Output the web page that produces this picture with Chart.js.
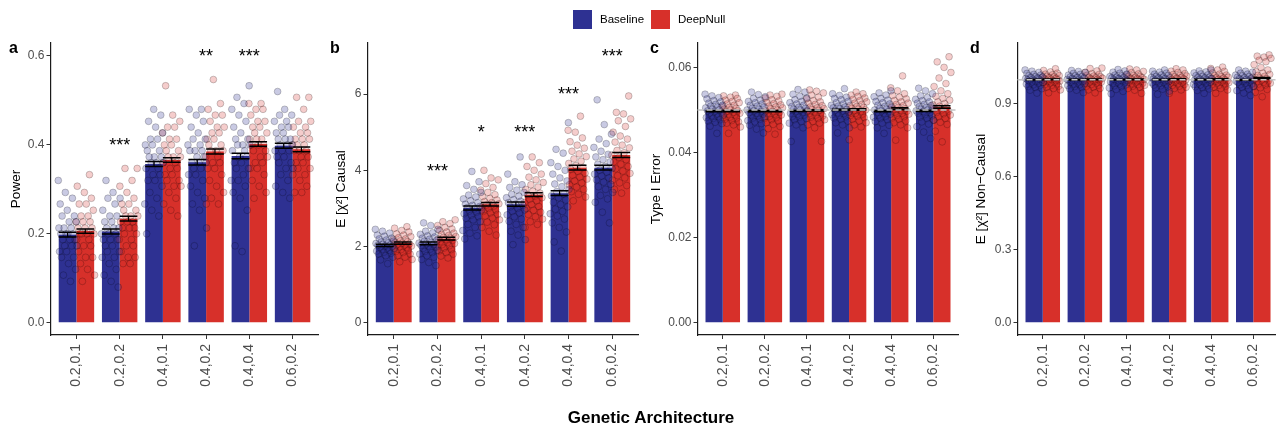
<!DOCTYPE html>
<html>
<head>
<meta charset="utf-8">
<script src="https://cdn.jsdelivr.net/npm/chart.js@4.4.1/dist/chart.umd.min.js"></script>
<style>
  html, body { margin: 0; padding: 0; background: #fff; }
  #page { position: relative; width: 1276px; height: 428px; overflow: hidden;
          font-family: "Liberation Sans", Arial, Helvetica, sans-serif; color: #000; }
  #page canvas { position: absolute; left: 0; top: 0; }
  .tag { position: absolute; top: 40px; font-size: 16px; font-weight: bold; line-height: 16px; }
  .key { position: absolute; top: 10px; width: 19px; height: 19px; }
  .key-label { position: absolute; top: 10px; height: 19px; line-height: 19px; font-size: 11.5px; }
  #xtitle { position: absolute; left: 451px; width: 400px; top: 409px; text-align: center;
            font-size: 17px; font-weight: bold; line-height: 17px; }
</style>
</head>
<body>
<div id="page">
  <canvas id="panelA" width="1276" height="428"></canvas>
  <canvas id="panelB" width="1276" height="428"></canvas>
  <canvas id="panelC" width="1276" height="428"></canvas>
  <canvas id="panelD" width="1276" height="428"></canvas>
  <div class="tag" style="left:9px">a</div>
  <div class="tag" style="left:330px">b</div>
  <div class="tag" style="left:650px">c</div>
  <div class="tag" style="left:970px">d</div>
  <div id="legend"></div>
  <div id="xtitle">Genetic Architecture</div>
</div>
<script>
// ---- categories and series ----
const architectures = ['0.2,0.1', '0.2,0.2', '0.4,0.1', '0.4,0.2', '0.4,0.4', '0.6,0.2'];
const methods = ['Baseline', 'DeepNull'];

// a: power
const powerTicks = [0, 0.2, 0.4, 0.6];
const powerBaseline = [0.198, 0.205, 0.357, 0.361, 0.375, 0.398];
const powerDeepNull = [0.206, 0.234, 0.366, 0.385, 0.402, 0.390];
const powerBaselineSe = [0.0055, 0.0055, 0.0055, 0.006, 0.006, 0.0055];
const powerDeepNullSe = [0.005, 0.0055, 0.005, 0.0055, 0.005, 0.0055];
const powerStars = ['', '***', '', '**', '***', ''];
const powerStarLevels = [null, 0.409, null, 0.609, 0.609, null];
const powerBaselineRuns = [
  [0.320,0.293,0.280,0.267,0.253,0.240,0.240,0.227,0.227,0.213,0.213,0.213,0.200,0.200,0.200,0.200,0.187,0.187,0.187,0.173,0.173,0.173,0.160,0.160,0.147,0.147,0.133,0.120,0.107,0.093],
  [0.320,0.293,0.280,0.280,0.267,0.253,0.240,0.240,0.227,0.227,0.213,0.213,0.213,0.200,0.200,0.200,0.187,0.187,0.187,0.173,0.173,0.160,0.160,0.147,0.147,0.133,0.120,0.107,0.093,0.080],
  [0.480,0.467,0.453,0.440,0.427,0.413,0.413,0.400,0.400,0.387,0.387,0.373,0.373,0.373,0.360,0.360,0.360,0.347,0.347,0.333,0.333,0.320,0.320,0.307,0.293,0.280,0.267,0.253,0.240,0.200],
  [0.480,0.480,0.467,0.453,0.440,0.427,0.413,0.413,0.400,0.400,0.387,0.387,0.387,0.373,0.373,0.360,0.360,0.360,0.347,0.347,0.333,0.333,0.320,0.307,0.293,0.280,0.267,0.253,0.213,0.173],
  [0.533,0.507,0.493,0.480,0.467,0.453,0.440,0.427,0.413,0.413,0.400,0.400,0.400,0.387,0.387,0.373,0.373,0.360,0.360,0.347,0.347,0.333,0.320,0.320,0.307,0.293,0.280,0.253,0.173,0.160],
  [0.520,0.480,0.467,0.467,0.453,0.453,0.440,0.440,0.427,0.427,0.413,0.413,0.413,0.400,0.400,0.400,0.387,0.387,0.387,0.373,0.373,0.360,0.360,0.347,0.347,0.333,0.320,0.307,0.293,0.280]
];
const powerDeepNullRuns = [
  [0.333,0.307,0.293,0.280,0.267,0.267,0.253,0.240,0.240,0.227,0.227,0.227,0.213,0.213,0.213,0.200,0.200,0.200,0.200,0.187,0.187,0.173,0.173,0.160,0.147,0.147,0.133,0.120,0.107,0.093],
  [0.347,0.347,0.320,0.307,0.293,0.280,0.267,0.267,0.253,0.253,0.240,0.240,0.240,0.227,0.227,0.227,0.213,0.213,0.213,0.200,0.200,0.187,0.187,0.173,0.173,0.160,0.147,0.147,0.133,0.133],
  [0.533,0.467,0.453,0.440,0.440,0.427,0.413,0.413,0.400,0.400,0.387,0.387,0.373,0.373,0.373,0.360,0.360,0.347,0.347,0.333,0.333,0.320,0.320,0.307,0.307,0.293,0.280,0.267,0.253,0.240],
  [0.547,0.493,0.480,0.467,0.467,0.453,0.440,0.440,0.427,0.427,0.413,0.413,0.400,0.400,0.387,0.387,0.387,0.373,0.373,0.360,0.360,0.347,0.347,0.333,0.320,0.307,0.293,0.280,0.267,0.267],
  [0.493,0.493,0.480,0.480,0.467,0.453,0.453,0.440,0.440,0.427,0.427,0.413,0.413,0.413,0.400,0.400,0.400,0.387,0.387,0.373,0.373,0.360,0.360,0.347,0.347,0.333,0.320,0.307,0.293,0.280],
  [0.507,0.507,0.480,0.453,0.453,0.440,0.440,0.427,0.427,0.413,0.413,0.413,0.400,0.400,0.400,0.387,0.387,0.387,0.373,0.373,0.360,0.360,0.347,0.347,0.333,0.333,0.320,0.307,0.293,0.293]
];

// b: mean chi-square at causal variants
const causalTicks = [0, 2, 4, 6];
const causalBaseline = [2.03, 2.08, 3.01, 3.11, 3.40, 4.07];
const causalDeepNull = [2.09, 2.205, 3.11, 3.36, 4.07, 4.40];
const causalBaselineSe = [0.03, 0.035, 0.05, 0.055, 0.06, 0.065];
const causalDeepNullSe = [0.03, 0.035, 0.045, 0.05, 0.06, 0.065];
const causalStars = ['', '***', '*', '***', '***', '***'];
const causalStarLevels = [null, 4.105, 5.12, 5.12, 6.11, 7.11];
const causalBaselineRuns = [
  [2.45,2.40,2.35,2.30,2.27,2.22,2.20,2.17,2.14,2.12,2.10,2.08,2.06,2.04,2.03,2.01,2.00,1.98,1.96,1.94,1.92,1.90,1.88,1.85,1.82,1.80,1.76,1.72,1.65,1.55],
  [2.62,2.55,2.45,2.40,2.36,2.32,2.28,2.25,2.22,2.19,2.16,2.14,2.11,2.09,2.07,2.05,2.03,2.01,1.98,1.95,1.93,1.90,1.87,1.84,1.80,1.76,1.72,1.66,1.58,1.50],
  [3.97,3.70,3.60,3.50,3.42,3.35,3.30,3.25,3.20,3.15,3.11,3.08,3.05,3.02,2.99,2.96,2.93,2.90,2.86,2.82,2.78,2.74,2.70,2.65,2.58,2.50,2.42,2.35,2.28,2.20],
  [4.35,3.90,3.70,3.62,3.55,3.48,3.42,3.37,3.32,3.28,3.23,3.19,3.15,3.11,3.08,3.04,3.00,2.96,2.92,2.88,2.83,2.78,2.72,2.66,2.58,2.50,2.40,2.30,2.18,2.05],
  [5.25,4.55,4.45,4.20,4.10,4.00,3.90,3.80,3.72,3.64,3.57,3.50,3.44,3.38,3.33,3.28,3.22,3.16,3.10,3.04,2.98,2.92,2.86,2.80,2.72,2.62,2.50,2.38,2.12,1.88],
  [5.85,5.20,4.95,4.82,4.70,4.60,4.50,4.42,4.35,4.28,4.22,4.16,4.10,4.05,4.00,3.95,3.90,3.85,3.80,3.75,3.69,3.63,3.57,3.50,3.42,3.34,3.25,3.16,2.90,2.62]
];
const causalDeepNullRuns = [
  [2.52,2.48,2.42,2.38,2.33,2.30,2.26,2.23,2.20,2.18,2.15,2.13,2.11,2.09,2.07,2.05,2.03,2.01,1.99,1.97,1.95,1.92,1.90,1.87,1.84,1.80,1.76,1.72,1.66,1.60],
  [2.70,2.65,2.60,2.55,2.50,2.46,2.42,2.38,2.35,2.32,2.29,2.26,2.24,2.22,2.20,2.18,2.16,2.13,2.10,2.08,2.05,2.02,1.99,1.96,1.92,1.88,1.84,1.80,1.75,1.70],
  [4.00,3.80,3.75,3.65,3.55,3.48,3.42,3.36,3.31,3.26,3.22,3.18,3.15,3.12,3.09,3.06,3.03,3.00,2.96,2.92,2.88,2.84,2.80,2.75,2.70,2.64,2.57,2.50,2.40,2.30],
  [4.35,4.20,4.10,4.00,3.90,3.82,3.75,3.68,3.62,3.56,3.50,3.45,3.40,3.36,3.32,3.28,3.24,3.20,3.15,3.10,3.05,3.00,2.95,2.90,2.84,2.78,2.72,2.65,2.58,2.50],
  [5.42,5.05,5.00,4.85,4.75,4.66,4.58,4.50,4.43,4.36,4.30,4.24,4.18,4.12,4.07,4.02,3.97,3.92,3.87,3.82,3.77,3.72,3.67,3.62,3.56,3.50,3.44,3.37,3.30,3.20],
  [5.95,5.52,5.48,5.35,5.30,5.15,5.00,4.90,4.82,4.74,4.66,4.59,4.52,4.46,4.40,4.34,4.28,4.22,4.16,4.10,4.04,3.98,3.92,3.86,3.80,3.74,3.67,3.60,3.50,3.40]
];

// c: type I error
const typeOneTicks = [0, 0.02, 0.04, 0.06];
const typeOneBaseline = [0.0497, 0.0497, 0.0498, 0.0500, 0.0497, 0.0498];
const typeOneDeepNull = [0.0497, 0.0497, 0.0499, 0.0501, 0.0503, 0.0507];
const typeOneBaselineSe = [0.00015, 0.00015, 0.00015, 0.00015, 0.00015, 0.00015];
const typeOneDeepNullSe = [0.00015, 0.00015, 0.00015, 0.00015, 0.0002, 0.0003];
const typeOneLevel = 0.05;
const typeOneBaselineRuns = [
  [0.0537,0.0533,0.0529,0.0526,0.0522,0.0519,0.0516,0.0513,0.0511,0.0509,0.0507,0.0505,0.0502,0.0500,0.0498,0.0496,0.0494,0.0492,0.0490,0.0488,0.0486,0.0484,0.0482,0.0480,0.0477,0.0474,0.0471,0.0468,0.0462,0.0445],
  [0.0542,0.0536,0.0531,0.0527,0.0523,0.0520,0.0517,0.0514,0.0511,0.0509,0.0507,0.0504,0.0502,0.0500,0.0498,0.0496,0.0494,0.0492,0.0490,0.0488,0.0486,0.0484,0.0481,0.0478,0.0475,0.0472,0.0468,0.0464,0.0455,0.0446],
  [0.0548,0.0542,0.0537,0.0532,0.0528,0.0524,0.0520,0.0517,0.0514,0.0511,0.0508,0.0506,0.0504,0.0502,0.0500,0.0498,0.0496,0.0494,0.0492,0.0490,0.0488,0.0485,0.0483,0.0480,0.0477,0.0473,0.0469,0.0465,0.0458,0.0426],
  [0.0550,0.0538,0.0534,0.0530,0.0527,0.0524,0.0520,0.0517,0.0514,0.0511,0.0509,0.0507,0.0505,0.0503,0.0501,0.0499,0.0497,0.0495,0.0493,0.0491,0.0489,0.0487,0.0484,0.0481,0.0478,0.0474,0.0470,0.0465,0.0458,0.0446],
  [0.0545,0.0540,0.0535,0.0531,0.0527,0.0523,0.0520,0.0517,0.0514,0.0511,0.0508,0.0506,0.0504,0.0502,0.0500,0.0498,0.0496,0.0494,0.0492,0.0490,0.0488,0.0485,0.0483,0.0480,0.0477,0.0473,0.0469,0.0464,0.0458,0.0445],
  [0.0551,0.0545,0.0538,0.0533,0.0529,0.0525,0.0522,0.0519,0.0516,0.0513,0.0510,0.0508,0.0506,0.0504,0.0502,0.0500,0.0498,0.0496,0.0494,0.0492,0.0489,0.0486,0.0483,0.0480,0.0476,0.0472,0.0467,0.0461,0.0448,0.0433]
];
const typeOneDeepNullRuns = [
  [0.0535,0.0533,0.0530,0.0527,0.0523,0.0520,0.0517,0.0514,0.0511,0.0508,0.0506,0.0504,0.0502,0.0500,0.0498,0.0496,0.0494,0.0492,0.0490,0.0488,0.0486,0.0483,0.0481,0.0478,0.0475,0.0472,0.0469,0.0465,0.0460,0.0445],
  [0.0537,0.0535,0.0532,0.0528,0.0524,0.0521,0.0518,0.0515,0.0512,0.0509,0.0507,0.0505,0.0503,0.0500,0.0498,0.0496,0.0494,0.0492,0.0490,0.0488,0.0485,0.0482,0.0480,0.0477,0.0474,0.0470,0.0466,0.0461,0.0456,0.0443],
  [0.0547,0.0544,0.0540,0.0535,0.0530,0.0526,0.0522,0.0519,0.0516,0.0513,0.0510,0.0507,0.0505,0.0503,0.0501,0.0499,0.0497,0.0495,0.0493,0.0491,0.0488,0.0486,0.0483,0.0480,0.0477,0.0473,0.0469,0.0465,0.0458,0.0426],
  [0.0542,0.0538,0.0535,0.0532,0.0528,0.0525,0.0522,0.0519,0.0516,0.0513,0.0510,0.0508,0.0506,0.0504,0.0502,0.0500,0.0498,0.0496,0.0494,0.0492,0.0490,0.0487,0.0485,0.0482,0.0478,0.0474,0.0470,0.0465,0.0460,0.0430],
  [0.0580,0.0552,0.0545,0.0538,0.0534,0.0530,0.0526,0.0522,0.0519,0.0516,0.0513,0.0510,0.0508,0.0506,0.0503,0.0501,0.0499,0.0497,0.0495,0.0492,0.0490,0.0487,0.0484,0.0481,0.0478,0.0474,0.0470,0.0465,0.0458,0.0429],
  [0.0625,0.0613,0.0600,0.0588,0.0575,0.0562,0.0555,0.0545,0.0538,0.0532,0.0527,0.0523,0.0519,0.0515,0.0512,0.0509,0.0506,0.0503,0.0500,0.0497,0.0494,0.0491,0.0488,0.0484,0.0480,0.0476,0.0471,0.0466,0.0450,0.0425]
];

// d: mean chi-square at non-causal variants
const nonCausalTicks = [0, 0.3, 0.6, 0.9];
const nonCausalBaseline = [1.000, 1.000, 1.000, 1.000, 1.000, 0.999];
const nonCausalDeepNull = [1.001, 1.001, 1.001, 1.002, 1.002, 1.006];
const nonCausalBaselineSe = [0.0015, 0.0015, 0.0015, 0.0015, 0.0015, 0.0018];
const nonCausalDeepNullSe = [0.0015, 0.0015, 0.0015, 0.0015, 0.0018, 0.003];
const nonCausalLevel = 1.0;
const nonCausalBaselineRuns = [
  [1.040,1.035,1.030,1.026,1.022,1.019,1.016,1.013,1.011,1.009,1.007,1.005,1.003,1.001,0.999,0.997,0.995,0.993,0.991,0.989,0.987,0.985,0.982,0.979,0.976,0.972,0.968,0.963,0.957,0.945],
  [1.038,1.034,1.030,1.026,1.022,1.019,1.016,1.013,1.011,1.009,1.007,1.005,1.003,1.001,0.999,0.997,0.995,0.993,0.991,0.989,0.987,0.985,0.982,0.979,0.976,0.972,0.968,0.963,0.957,0.947],
  [1.042,1.036,1.031,1.027,1.023,1.019,1.016,1.013,1.011,1.009,1.007,1.005,1.003,1.001,0.999,0.997,0.995,0.993,0.991,0.989,0.987,0.985,0.982,0.979,0.975,0.971,0.966,0.960,0.952,0.942],
  [1.040,1.035,1.031,1.027,1.023,1.020,1.017,1.014,1.011,1.009,1.007,1.005,1.003,1.001,0.999,0.997,0.995,0.993,0.991,0.989,0.987,0.984,0.981,0.978,0.975,0.971,0.967,0.961,0.953,0.940],
  [1.040,1.036,1.032,1.028,1.024,1.020,1.017,1.014,1.011,1.009,1.007,1.005,1.003,1.001,0.999,0.997,0.995,0.993,0.991,0.989,0.987,0.984,0.981,0.978,0.975,0.971,0.967,0.962,0.956,0.944],
  [1.040,1.035,1.031,1.027,1.023,1.019,1.016,1.013,1.010,1.008,1.006,1.004,1.002,1.000,0.998,0.996,0.994,0.992,0.990,0.988,0.985,0.982,0.979,0.976,0.972,0.968,0.962,0.955,0.945,0.935]
];
const nonCausalDeepNullRuns = [
  [1.045,1.038,1.032,1.027,1.023,1.020,1.017,1.014,1.012,1.010,1.008,1.006,1.004,1.002,1.000,0.998,0.996,0.994,0.992,0.990,0.988,0.986,0.983,0.980,0.977,0.973,0.969,0.964,0.958,0.946],
  [1.048,1.046,1.036,1.030,1.025,1.021,1.018,1.015,1.012,1.010,1.008,1.006,1.004,1.002,1.000,0.998,0.996,0.994,0.992,0.990,0.988,0.986,0.983,0.980,0.977,0.973,0.969,0.964,0.958,0.946],
  [1.044,1.040,1.034,1.029,1.024,1.020,1.017,1.014,1.012,1.010,1.008,1.006,1.004,1.002,1.000,0.998,0.996,0.994,0.992,0.990,0.988,0.986,0.983,0.980,0.977,0.973,0.969,0.964,0.957,0.944],
  [1.045,1.040,1.035,1.030,1.025,1.021,1.018,1.015,1.012,1.010,1.008,1.006,1.004,1.002,1.000,0.998,0.996,0.994,0.992,0.990,0.988,0.986,0.983,0.980,0.977,0.973,0.969,0.964,0.958,0.944],
  [1.052,1.046,1.040,1.034,1.028,1.023,1.019,1.016,1.013,1.010,1.008,1.006,1.004,1.002,1.000,0.998,0.996,0.994,0.992,0.990,0.988,0.986,0.983,0.980,0.977,0.973,0.969,0.964,0.958,0.944],
  [1.102,1.097,1.093,1.088,1.080,1.074,1.062,1.050,1.040,1.033,1.027,1.022,1.018,1.014,1.010,1.007,1.004,1.001,0.998,0.995,0.992,0.989,0.986,0.982,0.978,0.973,0.967,0.960,0.948,0.930]
];

// ---- styling and layout ----
const BLUE = '#2E3192';
const RED = '#D7302A';
const BLUE_SOFT = 'rgba(46,49,146,0.26)';
const RED_SOFT = 'rgba(215,48,42,0.24)';
const RING = 'rgba(0,0,0,0.26)';
const FONT = '"Liberation Sans", Arial, Helvetica, sans-serif';
const PAGE_W = 1276, PAGE_H = 428;
const PLOT_TOP = 43, PLOT_BOTTOM = 335;
const Y_AXIS_W = 50, X_AXIS_H = 60;
const PAIR_SHARE = 0.82;            // part of each category filled by the two bars
const BAR_SHIFT = PAIR_SHARE / 4;   // offset of each bar centre from the category

// spreads the replicate dots sideways inside their bar (fixed interleaved order)
function sideways(k, salt) {
  return ((k * 11 + salt * 7) % 30) / 29 - 0.5;
}

// legend
(function buildLegend() {
  const legend = document.getElementById('legend');
  const colours = [BLUE, RED];
  const keyLeft = [573, 651];
  methods.forEach((name, i) => {
    const key = document.createElement('div');
    key.className = 'key';
    key.style.left = keyLeft[i] + 'px';
    key.style.background = colours[i];
    const label = document.createElement('div');
    label.className = 'key-label';
    label.style.left = (keyLeft[i] + 27) + 'px';
    label.textContent = name;
    legend.appendChild(key);
    legend.appendChild(label);
  });
})();

function makePanel(canvasId, p) {
  const toBars = vals => vals.map((v, i) => ({ x: i, y: v }));
  const toDots = (runs, side, salt) => runs.flatMap((vals, i) =>
    vals.map((v, k) => ({ x: i + side * BAR_SHIFT + sideways(k, salt + i) * BAR_SHIFT * 2.1, y: v })));

  const marks = {
    id: 'summaryMarks',
    afterDatasetsDraw(chart) {
      const { ctx, chartArea } = chart;
      const xs = chart.scales.x, ys = chart.scales.y;
      const means = [p.baseline, p.deepnull];
      const ses = [p.baselineSe, p.deepnullSe];
      ctx.save();
      [0, 1].forEach(di => {
        chart.getDatasetMeta(di).data.forEach((bar, i) => {
          const cx = bar.x, hw = bar.width / 2;
          const hi = ys.getPixelForValue(means[di][i] + ses[di][i]);
          const lo = ys.getPixelForValue(means[di][i] - ses[di][i]);
          ctx.strokeStyle = '#000';
          ctx.lineWidth = 1.5;
          ctx.beginPath();
          ctx.moveTo(cx - hw, hi); ctx.lineTo(cx + hw, hi);
          ctx.moveTo(cx - hw, lo); ctx.lineTo(cx + hw, lo);
          ctx.stroke();
          ctx.lineWidth = 1.2;
          ctx.beginPath();
          ctx.moveTo(cx, hi); ctx.lineTo(cx, lo);
          ctx.stroke();
        });
      });
      if (p.level != null) {
        const yl = ys.getPixelForValue(p.level);
        ctx.strokeStyle = '#c4c4c4';
        ctx.lineWidth = 1.4;
        ctx.setLineDash([6, 3]);
        ctx.beginPath();
        ctx.moveTo(chartArea.left, yl); ctx.lineTo(chartArea.right, yl);
        ctx.stroke();
        ctx.setLineDash([]);
      }
      if (p.stars) {
        ctx.fillStyle = '#000';
        ctx.font = '18px ' + FONT;
        ctx.textAlign = 'center';
        ctx.textBaseline = 'alphabetic';
        p.stars.forEach((s, i) => {
          if (!s) return;
          ctx.fillText(s, xs.getPixelForValue(i), ys.getPixelForValue(p.starLevels[i]) + 0.575 * 18);
        });
      }
      ctx.restore();
    }
  };

  return new Chart(document.getElementById(canvasId), {
    type: 'bar',
    data: {
      datasets: [
        { type: 'bar', label: methods[0], data: toBars(p.baseline), backgroundColor: BLUE,
          categoryPercentage: PAIR_SHARE, barPercentage: 1, order: 2 },
        { type: 'bar', label: methods[1], data: toBars(p.deepnull), backgroundColor: RED,
          categoryPercentage: PAIR_SHARE, barPercentage: 1, order: 2 },
        { type: 'scatter', data: toDots(p.baselineRuns, -1, 0), backgroundColor: BLUE_SOFT,
          borderColor: RING, borderWidth: 0.8, pointRadius: 3.4, order: 1 },
        { type: 'scatter', data: toDots(p.deepnullRuns, 1, 3), backgroundColor: RED_SOFT,
          borderColor: RING, borderWidth: 0.8, pointRadius: 3.4, order: 1 }
      ]
    },
    options: {
      responsive: false,
      devicePixelRatio: 1,
      animation: false,
      events: [],
      layout: {
        autoPadding: false,
        padding: {
          left: p.area.left - Y_AXIS_W,
          right: PAGE_W - p.area.right,
          top: PLOT_TOP,
          bottom: PAGE_H - PLOT_BOTTOM - X_AXIS_H
        }
      },
      plugins: { legend: { display: false }, tooltip: { enabled: false } },
      scales: {
        x: {
          type: 'linear',
          min: -0.6,
          max: p.xMax,
          offset: false,
          afterBuildTicks: s => { s.ticks = architectures.map((_, i) => ({ value: i })); },
          afterFit: s => { s.height = X_AXIS_H; s.paddingLeft = 0; s.paddingRight = 0; },
          ticks: {
            autoSkip: false, minRotation: 90, maxRotation: 90, padding: 5,
            color: '#4d4d4d', font: { family: FONT, size: 14 },
            callback: v => architectures[v]
          },
          grid: { offset: false, drawOnChartArea: false, drawTicks: true, tickLength: 4,
                  tickColor: '#333', tickWidth: 1 },
          border: { display: true, color: '#1a1a1a', width: 1.2 }
        },
        y: {
          type: 'linear',
          min: p.yMin,
          max: p.yMax,
          afterBuildTicks: s => { s.ticks = p.ticks.map(v => ({ value: v })); },
          afterFit: s => { s.width = Y_AXIS_W; s.paddingTop = 0; s.paddingBottom = 0; },
          ticks: {
            padding: 2, color: '#4d4d4d', font: { family: FONT, size: 12 },
            callback: v => v.toFixed(p.decimals)
          },
          grid: { drawOnChartArea: false, drawTicks: true, tickLength: 4,
                  tickColor: '#333', tickWidth: 1 },
          border: { display: true, color: '#1a1a1a', width: 1.2 },
          title: {
            display: true, text: p.title, color: '#000',
            font: { family: FONT, size: 13.5 },
            padding: { top: p.titlePad, bottom: 0 }
          }
        }
      }
    },
    plugins: [marks]
  });
}

makePanel('panelA', {
  title: 'Power', ticks: powerTicks, decimals: 1, yMin: -0.0277, yMax: 0.6292,
  baseline: powerBaseline, deepnull: powerDeepNull,
  baselineSe: powerBaselineSe, deepnullSe: powerDeepNullSe,
  baselineRuns: powerBaselineRuns, deepnullRuns: powerDeepNullRuns,
  stars: powerStars, starLevels: powerStarLevels,
  area: { left: 50.5, right: 318.5 }, xMax: 5.6, titlePad: 7.9
});
makePanel('panelB', {
  title: 'E [\u03C7\u00B2] Causal', ticks: causalTicks, decimals: 0, yMin: -0.323, yMax: 7.341,
  baseline: causalBaseline, deepnull: causalDeepNull,
  baselineSe: causalBaselineSe, deepnullSe: causalDeepNullSe,
  baselineRuns: causalBaselineRuns, deepnullRuns: causalDeepNullRuns,
  stars: causalStars, starLevels: causalStarLevels,
  area: { left: 367.5, right: 638.5 }, xMax: 5.6, titlePad: 15.7
});
makePanel('panelC', {
  title: 'Type I Error', ticks: typeOneTicks, decimals: 2, yMin: -0.00289, yMax: 0.06573,
  baseline: typeOneBaseline, deepnull: typeOneDeepNull,
  baselineSe: typeOneBaselineSe, deepnullSe: typeOneDeepNullSe,
  baselineRuns: typeOneBaselineRuns, deepnullRuns: typeOneDeepNullRuns,
  level: typeOneLevel,
  area: { left: 697.5, right: 958.5 }, xMax: 5.6, titlePad: 0.5
});
makePanel('panelD', {
  title: 'E [\u03C7\u00B2] Non\u2212Causal', ticks: nonCausalTicks, decimals: 1, yMin: -0.0506, yMax: 1.151,
  baseline: nonCausalBaseline, deepnull: nonCausalDeepNull,
  baselineSe: nonCausalBaselineSe, deepnullSe: nonCausalDeepNullSe,
  baselineRuns: nonCausalBaselineRuns, deepnullRuns: nonCausalDeepNullRuns,
  level: nonCausalLevel,
  area: { left: 1017.5, right: 1276 }, xMax: 5.54, titlePad: 6.1
});
</script>
</body>
</html>
